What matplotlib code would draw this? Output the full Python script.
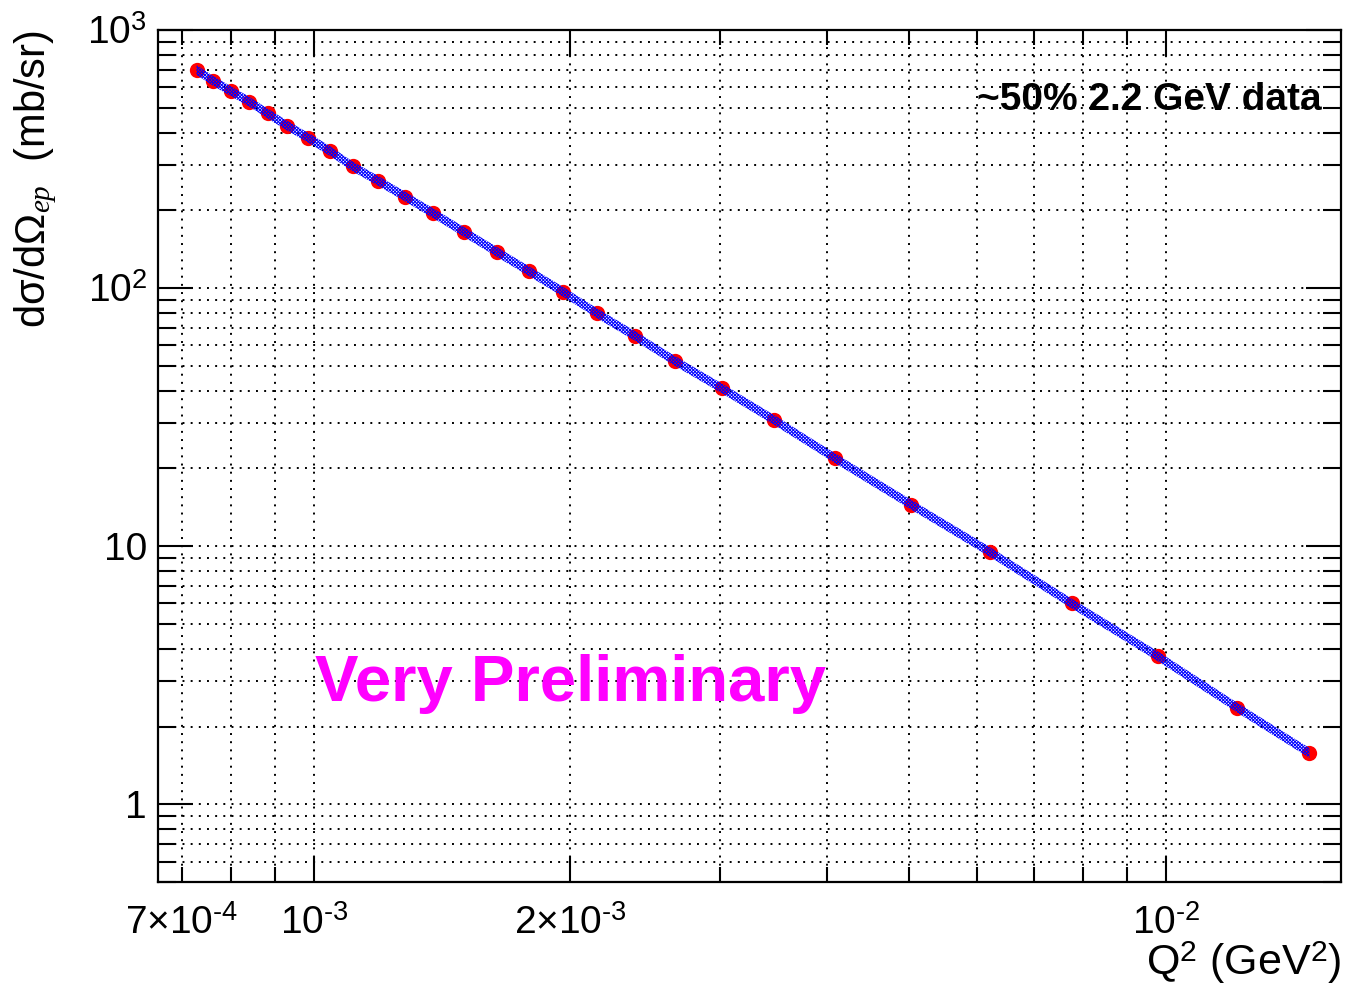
import matplotlib
matplotlib.use('Agg')
import matplotlib.pyplot as plt
from matplotlib.ticker import FixedLocator, FixedFormatter

# ROOT-like look: Helvetica-ish sans, italic serif for the subscript
plt.rcParams['font.family'] = ['Liberation Sans', 'DejaVu Sans']
plt.rcParams['mathtext.fontset'] = 'custom'
plt.rcParams['mathtext.rm'] = 'Liberation Sans'
plt.rcParams['mathtext.it'] = 'Liberation Serif:italic'
plt.rcParams['mathtext.bf'] = 'Liberation Sans:bold'
plt.rcParams['hatch.linewidth'] = 0.7

# Q^2 (GeV^2) and cross section (mb/sr)
q2 = [7.28e-4, 7.62e-4, 7.99e-4, 8.39e-4, 8.82e-4, 9.30e-4, 9.85e-4,
      1.045e-3, 1.11e-3, 1.19e-3, 1.28e-3, 1.38e-3, 1.50e-3, 1.64e-3,
      1.79e-3, 1.96e-3, 2.15e-3, 2.38e-3, 2.65e-3, 3.01e-3, 3.47e-3,
      4.09e-3, 5.02e-3, 6.22e-3, 7.75e-3, 9.79e-3, 1.212e-2, 1.474e-2]
xsec = [700.0, 634.0, 579.0, 528.0, 475.0, 426.0, 382.0,
        339.0, 296.0, 260.0, 226.0, 195.0, 165.0, 138.0,
        116.0, 96.8, 79.8, 65.3, 52.3, 40.9, 30.8,
        21.9, 14.5, 9.48, 6.00, 3.74, 2.37, 1.58]

x_major = [1e-3, 2e-3, 1e-2]
x_major_labels = [r'$10^{\text{-}3}$', r'$2{\times}10^{\text{-}3}$', r'$10^{\text{-}2}$']
x_minor = [7e-4, 8e-4, 9e-4, 3e-3, 4e-3, 5e-3, 6e-3, 7e-3, 8e-3, 9e-3]
x_minor_labels = [r'$7{\times}10^{\text{-}4}$', '', '', '', '', '', '', '', '', '']
y_major = [1, 10, 100, 1000]
y_major_labels = ['1', '10', r'$10^{2}$', r'$10^{3}$']
y_minor = [0.5, 0.6, 0.7, 0.8, 0.9, 2, 3, 4, 5, 6, 7, 8, 9,
           20, 30, 40, 50, 60, 70, 80, 90,
           200, 300, 400, 500, 600, 700, 800, 900]

fig = plt.figure(figsize=(13.48, 9.86), dpi=100)
ax = fig.add_axes([0.1172, 0.1055, 0.8776, 0.8641])
ax.set_xscale('log')
ax.set_yscale('log')
ax.set_xlim(6.56e-4, 1.605e-2)
ax.set_ylim(0.5, 1000)

# red points with blue hatched band drawn on top
ax.plot(q2, xsec, 'o', color='red', markersize=11, markeredgewidth=0, zorder=3)
band_lo = [v / 1.045 for v in xsec]
band_hi = [v * 1.045 for v in xsec]
ax.fill_between(q2, band_lo, band_hi, facecolor='none', edgecolor='blue',
                hatch='x' * 10, linewidth=0, zorder=4)

ax.xaxis.set_major_locator(FixedLocator(x_major))
ax.xaxis.set_major_formatter(FixedFormatter(x_major_labels))
ax.xaxis.set_minor_locator(FixedLocator(x_minor))
ax.xaxis.set_minor_formatter(FixedFormatter(x_minor_labels))
ax.yaxis.set_major_locator(FixedLocator(y_major))
ax.yaxis.set_major_formatter(FixedFormatter(y_major_labels))
ax.yaxis.set_minor_locator(FixedLocator(y_minor))
ax.yaxis.set_minor_formatter(FixedFormatter([''] * len(y_minor)))

ax.tick_params(which='both', direction='in', top=True, right=True, width=1.5)
ax.tick_params(axis='x', which='major', length=19, labelsize=28, pad=17)
ax.tick_params(axis='x', which='minor', length=11, labelsize=28, pad=17)
ax.tick_params(axis='y', which='major', length=25, labelsize=28, pad=8)
ax.tick_params(axis='y', which='minor', length=13)
for sp in ax.spines.values():
    sp.set_linewidth(1.6)

ax.grid(True, which='both', color='black', linestyle=(0, (1, 3.2)), linewidth=1.4)
ax.set_axisbelow(True)

ax.text(-0.103, 1.0, 'd\u03c3/d\u03a9$_{ep}$  (mb/sr)', rotation=90,
        ha='center', va='top', transform=ax.transAxes, fontsize=30)
ax.text(1.0, -0.109, r'Q$^{2}$ (GeV$^{2}$)', ha='right', va='baseline',
        transform=ax.transAxes, fontsize=31)

ax.text(0.984, 0.906, '~50% 2.2 GeV data', ha='right', va='baseline',
        transform=ax.transAxes, fontsize=28, fontweight='bold', zorder=5)
ax.text(0.1327, 0.2125, 'Very Preliminary', ha='left', va='baseline',
        transform=ax.transAxes, fontsize=47, fontweight='bold',
        color='#ff00ff', zorder=5)

fig.savefig('out.png', dpi=100, facecolor='white')
plt.close(fig)
